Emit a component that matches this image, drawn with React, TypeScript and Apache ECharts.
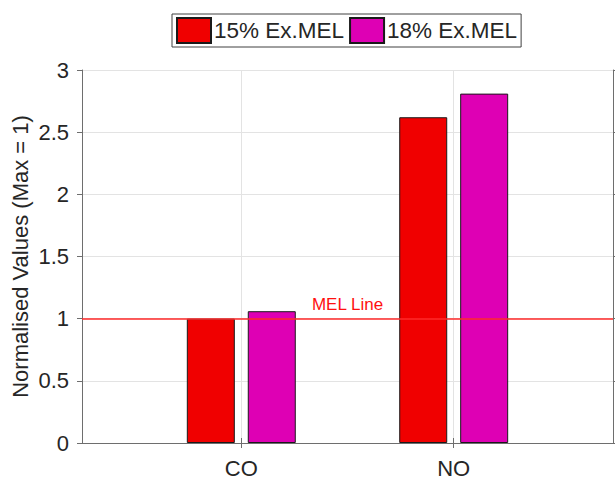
import React, { useEffect, useRef } from "react";
import * as echarts from "echarts";

// Chart data
const categories = ["CO", "NO"];
const positions = [1, 2];
const values15 = [1.0, 2.62];
const values18 = [1.06, 2.81];
const seriesNames = ["15% Ex.MEL", "18% Ex.MEL"];
const melLevel = 1;

const FONT = "'Liberation Sans', Arial, Helvetica, sans-serif";
const TEXT = "#262626";
const AXIS = "#6e6e6e";
const GRID = "#e3e3e3";

export default function App() {
  const ref = useRef<HTMLDivElement>(null);

  useEffect(() => {
    if (!ref.current) return;
    const chart = echarts.init(ref.current, null, { renderer: "svg" });

    const xBase = {
      type: "value" as const,
      min: 0.25,
      max: 2.75,
      axisLine: { show: true, lineStyle: { color: AXIS, width: 1 } },
      axisTick: {
        show: true,
        inside: false,
        length: 5,
        customValues: positions,
        lineStyle: { color: AXIS },
      },
    };

    const option = {
      animation: false,
      backgroundColor: "#ffffff",
      textStyle: { fontFamily: FONT, color: TEXT },
      grid: {
        left: 82,
        right: 2,
        top: 70,
        bottom: 38,
        containLabel: false,
        outerBoundsMode: "none",
      },
      legend: {
        left: 172,
        top: 14,
        orient: "horizontal",
        padding: [3, 4, 3, 4],
        itemGap: 5,
        itemWidth: 34,
        itemHeight: 25,
        icon: "rect",
        borderColor: "#404040",
        borderWidth: 1,
        backgroundColor: "#ffffff",
        textStyle: { fontSize: 22.5, color: TEXT, fontFamily: FONT, padding: [0, 0, 0, -2] },
        data: seriesNames,
      },
      xAxis: [
        {
          ...xBase,
          position: "bottom",
          axisLabel: {
            show: true,
            customValues: positions,
            fontSize: 22,
            color: TEXT,
            margin: 14,
            formatter: (v: number) => categories[positions.indexOf(v)] ?? "",
          },
          splitLine: { show: true, lineStyle: { color: GRID, width: 1 } },
        },
        {
          ...xBase,
          position: "top",
          axisLabel: { show: false },
          splitLine: { show: false },
        },
      ],
      yAxis: [
        {
          type: "value",
          position: "left",
          min: 0,
          max: 3,
          interval: 0.5,
          name: "Normalised Values (Max = 1)",
          nameLocation: "middle",
          nameGap: 51,
          nameMoveOverlap: false,
          nameTextStyle: { fontSize: 22, color: TEXT, fontFamily: FONT },
          axisLine: { show: true, lineStyle: { color: AXIS, width: 1 } },
          axisTick: { show: true, inside: false, length: 5, lineStyle: { color: AXIS } },
          axisLabel: { fontSize: 22, color: TEXT, margin: 13 },
          splitLine: { show: true, lineStyle: { color: GRID, width: 1 } },
        },
        {
          type: "value",
          position: "right",
          min: 0,
          max: 3,
          interval: 0.5,
          axisLine: { show: true, lineStyle: { color: AXIS, width: 1 } },
          axisTick: { show: true, inside: false, length: 4, lineStyle: { color: AXIS } },
          axisLabel: { show: false },
          splitLine: { show: false },
        },
      ],
      series: [
        {
          name: seriesNames[0],
          type: "bar",
          xAxisIndex: 0,
          yAxisIndex: 0,
          barWidth: 48,
          barGap: "27%",
          itemStyle: { color: "#f00000", borderColor: "#1a1a1a", borderWidth: 1 },
          data: positions.map((p, i) => [p, values15[i]]),
          markLine: {
            silent: true,
            symbol: "none",
            lineStyle: { color: "#ff2a2a", width: 1.5, type: "solid" },
            label: {
              show: true,
              position: "insideMiddleTop",
              formatter: "MEL Line",
              color: "#ff1010",
              fontSize: 17,
              fontFamily: FONT,
              distance: 6,
            },
            data: [{ yAxis: melLevel }],
          },
          z: 3,
        },
        {
          name: seriesNames[1],
          type: "bar",
          xAxisIndex: 0,
          yAxisIndex: 0,
          barWidth: 48,
          barGap: "27%",
          itemStyle: { color: "#de00b4", borderColor: "#1a1a1a", borderWidth: 1 },
          data: positions.map((p, i) => [p, values18[i]]),
          z: 2,
        },
      ],
    };

    chart.setOption(option as any);
    return () => chart.dispose();
  }, []);

  return (
    <div
      ref={ref}
      style={{ position: "fixed", left: 0, top: 0, width: 615, height: 481 }}
    />
  );
}
